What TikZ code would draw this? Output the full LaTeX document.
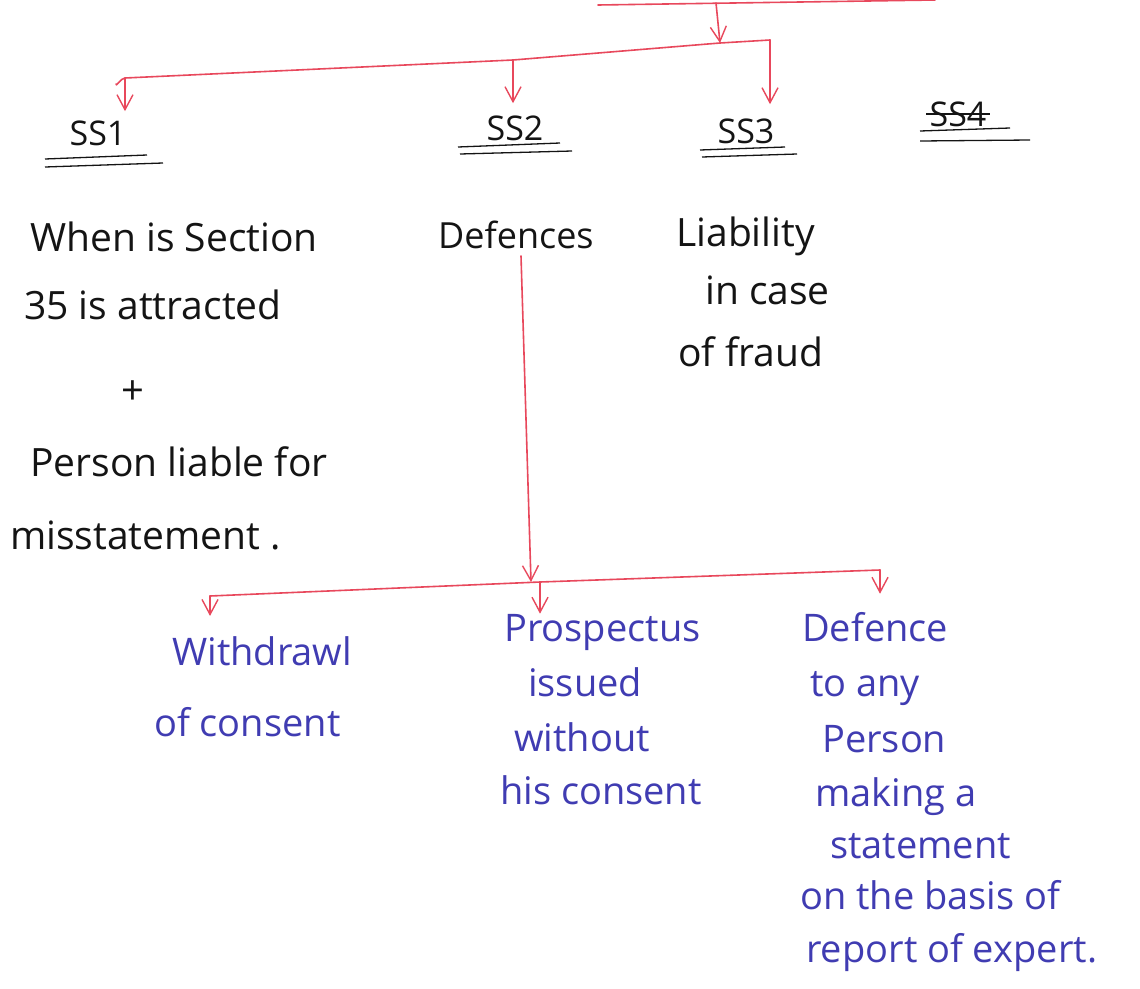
\documentclass[tikz,border=0pt]{standalone}
\usepackage{fontspec}
\setmainfont{Open Sans}
\usetikzlibrary{arrows.meta}
\definecolor{pen}{RGB}{232,72,92}
\definecolor{ink}{RGB}{20,20,20}
\definecolor{blueink}{RGB}{64,60,178}
\newcommand{\fs}[1]{\fontsize{#1}{#1}\selectfont}
\tikzset{
  redline/.style={draw=pen, line width=1.6pt, line cap=round, line join=round},
  redarrow/.style={redline, -{Straight Barb[length=15pt,width=16pt,line width=1.4pt]}},
  heading/.style={text=ink, font=\fs{34}, inner sep=0pt, anchor=base},
  line/.style={text=ink, font=\fs{39}, inner sep=0pt, anchor=base west},
  blueline/.style={text=blueink, font=\fs{38}, inner sep=0pt, anchor=base west},
  underl/.style={draw=ink, line width=1.3pt}
}
\begin{document}
\begin{tikzpicture}[x=1pt,y=-1pt]
\useasboundingbox (0,0) rectangle (1140,988);
\fill[white] (0,0) rectangle (1140,988);

% top branch line
\coordinate (topL) at (598,5);
\coordinate (topR) at (935,0);
\coordinate (topDrop) at (716,3);
\draw[redline] (topL) -- (topR);

% second-level bar with its corner down to SS3
\coordinate (barL) at (116,84);
\coordinate (barJ) at (720,43);
\coordinate (barR) at (770,40);
\coordinate (b1) at (125,78);
\coordinate (b2) at (513,60);
\draw[redarrow] (topDrop) -- (barJ);
\draw[redline] (barL) to[out=-100,in=180] (b1) -- (b2) -- (barJ) -- (barR);

% headings
\node[heading] (ss1) at (98,145) {SS1};
\node[heading] (ss2) at (515,140) {SS2};
\node[heading] (ss3) at (746,143) {SS3};
\node[heading] (ss4) at (958,126) {SS4};
\draw[redarrow, shorten >=9pt] (b1) -- (b1 |- ss1.north);
\draw[redarrow, shorten >=12pt] (b2) -- (b2 |- ss2.north);
\draw[redarrow, shorten >=14pt] (barR) -- (barR |- ss3.north);

% double underlines
\draw[underl] (45,159) -- (147,155) (45,167) -- (163,163);
\draw[underl] (458,147) -- (560,143) (460,154) -- (572,151);
\draw[underl] (700,150) -- (785,147) (702,157) -- (797,154);
\draw[underl] (920,131) -- (1010,128) (920,141) -- (1030,140);
\draw[ink, line width=1.3pt] ([xshift=-3pt]ss4.west) -- ([xshift=3pt]ss4.east);

% SS1 text
\node[line] (when) at (30,251) {When is Section};
\node[line] (attr) at (24,319) {35 is attracted};
\node[text=ink, inner sep=0pt, font=\fs{40}] (plus) at (133,393) {+};
\node[line] (person) at (30,476) {Person liable for};
\node[line] (miss) at (10,549) {misstatement .};

% SS2 and SS3 text
\node[line, font=\fs{36}] (def) at (438,248) {Defences};
\node[line] (liab) at (676,246) {Liability};
\node[line] (incase) at (705,304) {in case};
\node[line] (fraud) at (678,366) {of fraud};

% defences branch
\coordinate (defFoot) at (521,256);
\coordinate (lowJ) at (531,582);
\coordinate (lowL) at (210,596);
\coordinate (lowM) at (540,582);
\coordinate (lowR) at (880,570);
\draw[redarrow] (defFoot) -- (lowJ);
\draw[redline] (lowL) -- (lowM) -- (lowR);

% outcomes
\node[blueline] (withd) at (172,665) {Withdrawl};
\node[blueline] (ofcons) at (154,736) {of consent};

\node[blueline] (prosp) at (504,641) {Prospectus};
\node[blueline] (issued) at (528,696) {issued};
\node[blueline] (without) at (514,751) {without};
\node[blueline] (hiscons) at (500,804) {his consent};

\node[blueline] (defence) at (802,641) {Defence};
\node[blueline] (toany) at (810,696) {to any};
\node[blueline] (pers) at (822,752) {Person};
\node[blueline] (making) at (815,806) {making a};
\node[blueline] (stmt) at (830,858) {statement};
\node[blueline] (basis) at (800,909) {on the basis of};
\node[blueline] (report) at (806,962) {report of expert.};

\draw[redarrow, shorten >=20pt] (lowL) -- (lowL |- withd.north);
\draw[redarrow] (lowM) -- (lowM |- prosp.north);
\draw[redarrow, shorten >=18pt] (lowR) -- (lowR |- defence.north);
\end{tikzpicture}
\end{document}
